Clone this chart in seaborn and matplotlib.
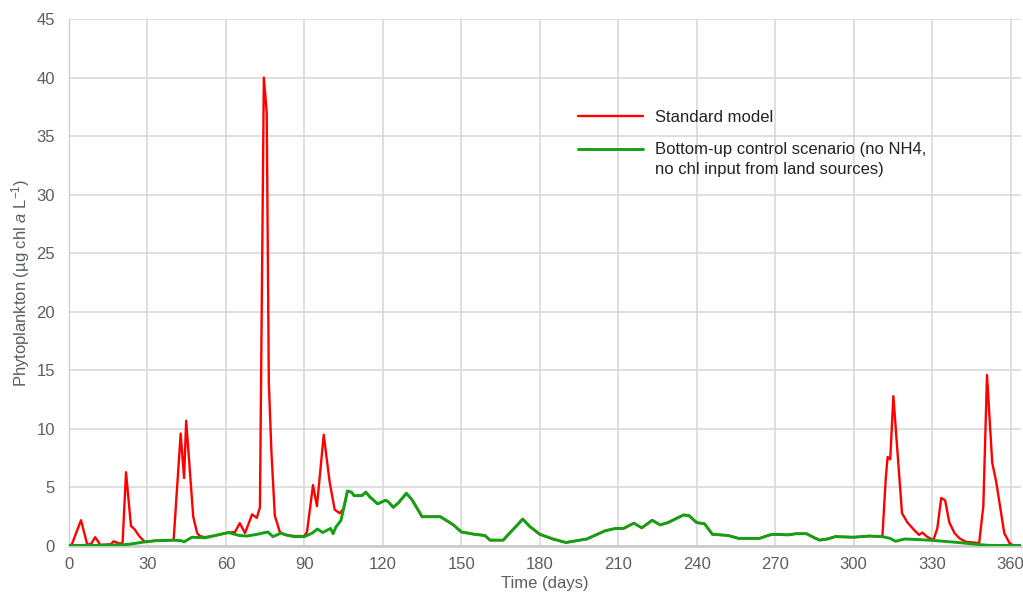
import matplotlib
matplotlib.use("Agg")
import matplotlib.pyplot as plt
import pandas as pd
import seaborn as sns
from matplotlib.lines import Line2D

# Bottom-up control scenario (no NH4, no chl input from land sources)
ctrl_days = [0, 1, 10, 20, 23, 26, 29, 33, 40, 43, 44, 47, 52, 56, 61, 65, 68, 72, 76, 78,
             81, 83, 86, 90, 93, 95, 97, 100, 101, 102, 104, 106.5, 108, 109, 112, 113.5,
             115, 118, 121, 122, 124, 126, 129, 131, 135, 137, 142, 147, 150, 155, 159,
             161, 166, 173.5, 176, 180, 185, 190, 198, 205, 209, 212, 216, 219, 223, 226,
             229, 235, 237, 240, 243, 246, 252, 256, 264, 268, 270, 275, 278, 282, 285,
             287, 290, 293, 300, 306, 311, 314, 316, 319.5, 329, 340, 349, 352, 364]
ctrl_vals = [0.05, 0.05, 0.05, 0.1, 0.15, 0.25, 0.35, 0.45, 0.5, 0.45, 0.35, 0.75, 0.7, 0.9,
             1.15, 0.9, 0.85, 1.0, 1.2, 0.8, 1.1, 0.95, 0.8, 0.8, 1.1, 1.45, 1.15, 1.5, 1.05,
             1.6, 2.2, 4.7, 4.6, 4.3, 4.3, 4.6, 4.2, 3.6, 3.9, 3.8, 3.3, 3.7, 4.5, 4.0, 2.5,
             2.5, 2.5, 1.8, 1.2, 1.0, 0.9, 0.5, 0.5, 2.3, 1.7, 1.0, 0.6, 0.3, 0.6, 1.3, 1.5,
             1.5, 1.95, 1.55, 2.2, 1.8, 2.0, 2.65, 2.6, 2.0, 1.9, 1.0, 0.9, 0.65, 0.65, 0.95,
             1.0, 0.95, 1.05, 1.05, 0.7, 0.5, 0.6, 0.8, 0.75, 0.85, 0.8, 0.65, 0.4, 0.6, 0.5,
             0.3, 0.1, 0.05, 0.05]

# Standard model: winter/spring blooms
std_early_days = [0, 1, 4.6, 7, 8.5, 10, 12, 16, 17, 19.5, 20.5, 21.8, 23.7, 25, 27, 29, 31,
                  33, 40, 42.7, 44, 44.8, 47.5, 49, 50, 52, 56, 61, 63.5, 65.3, 67.3, 70,
                  71.8, 73, 74.5, 75.6, 76.4, 77.4, 78.7, 80.6, 82.5, 86, 90, 91, 93.3, 94.8,
                  97.4, 99.7, 101.6, 103.5, 105]
std_early_vals = [0.05, 0.1, 2.2, 0.1, 0.2, 0.75, 0.1, 0.15, 0.4, 0.2, 0.3, 6.3, 1.7, 1.45,
                  0.8, 0.35, 0.4, 0.45, 0.5, 9.6, 5.8, 10.7, 2.5, 1.1, 0.85, 0.75, 0.9, 1.15,
                  1.2, 1.95, 1.1, 2.7, 2.4, 3.3, 40.0, 37.0, 14.0, 8.0, 2.6, 1.2, 0.95, 0.85,
                  0.85, 1.2, 5.2, 3.4, 9.5, 5.4, 3.1, 2.8, 3.2]

# Standard model: autumn/winter blooms
std_late_days = [312.3, 313, 314, 315.2, 316.8, 318.5, 320.6, 323, 325, 326.3, 328, 330.5,
                 332, 333.5, 335, 336.6, 338.6, 340.5, 343, 348, 349.6, 351, 353, 354.5,
                 356.4, 357.6, 359.6, 361, 364]
std_late_vals = [5.8, 7.6, 7.4, 12.8, 7.9, 2.8, 2.0, 1.4, 0.95, 1.15, 0.8, 0.5, 1.5, 4.1,
                 3.9, 2.0, 1.1, 0.65, 0.35, 0.25, 3.4, 14.6, 7.1, 5.5, 2.8, 1.1, 0.25, 0.05,
                 0.05]

# Between the blooms both runs share the same trajectory
mid = [(d, v) for d, v in zip(ctrl_days, ctrl_vals) if 106 <= d <= 311]
std_days = std_early_days + [d for d, _ in mid] + std_late_days
std_vals = std_early_vals + [v for _, v in mid] + std_late_vals

x_ticks = list(range(0, 361, 30))
y_ticks = list(range(0, 46, 5))

std_df = pd.DataFrame({"day": std_days, "chl": std_vals})
ctrl_df = pd.DataFrame({"day": ctrl_days, "chl": ctrl_vals})

sns.set_theme(style="white")
plt.rcParams["font.family"] = ["Liberation Sans", "DejaVu Sans"]
plt.rcParams["mathtext.fontset"] = "custom"
plt.rcParams["mathtext.rm"] = "Liberation Sans"
plt.rcParams["mathtext.it"] = "Liberation Sans:italic"

RED = "#ff0000"
GREEN = "#14a014"
TICK_COLOR = "#5a5e64"

fig = plt.figure(figsize=(10.23, 6.02), dpi=100)
ax = fig.add_axes([69 / 1023, 56 / 602, (1021 - 69) / 1023, (546 - 19) / 602])

sns.lineplot(data=std_df, x="day", y="chl", ax=ax, color=RED, linewidth=1.7,
             sort=False, estimator=None, zorder=3)
sns.lineplot(data=ctrl_df, x="day", y="chl", ax=ax, color=GREEN, linewidth=2.1,
             sort=False, estimator=None, zorder=4)

ax.set_xlim(0, 364)
ax.set_ylim(0, 45)
ax.set_xticks(x_ticks)
ax.set_yticks(y_ticks)
ax.grid(True, color="#d9d9d9", linewidth=1.2, zorder=0)
ax.set_axisbelow(True)
for side in ("top", "right"):
    ax.spines[side].set_visible(False)
ax.spines["left"].set_color("#cfcfcf")
ax.spines["left"].set_linewidth(1.0)
ax.spines["bottom"].set_color("#c8c8c8")
ax.spines["bottom"].set_linewidth(1.8)
ax.tick_params(axis="both", length=0, labelsize=12, labelcolor=TICK_COLOR)
ax.tick_params(axis="y", pad=10)
ax.tick_params(axis="x", pad=8)

ax.set_xlabel("Time (days)", fontsize=12, color=TICK_COLOR, labelpad=3)
ax.set_ylabel(r"Phytoplankton (µg chl $\mathit{a}$ L$^{-1}$)", fontsize=12,
              color=TICK_COLOR, labelpad=3)

# Legend: one block per scenario so the green key sits on the first text line
leg_kw = dict(frameon=False, fontsize=12, handlelength=3.9, handletextpad=0.7,
              borderpad=0, borderaxespad=0, labelcolor="#222222",
              bbox_transform=fig.transFigure, loc="center left")
leg1 = ax.legend([Line2D([], [], color=RED, linewidth=1.7)], ["Standard model"],
                 bbox_to_anchor=(578 / 1023, 1 - 117 / 602), **leg_kw)
ax.add_artist(leg1)
ax.legend([Line2D([], [], color=GREEN, linewidth=2.1), Line2D([], [], color="none")],
          ["Bottom-up control scenario (no NH4,", "no chl input from land sources)"],
          bbox_to_anchor=(578 / 1023, 1 - 159.5 / 602), labelspacing=0.25, **leg_kw)

fig.savefig("out.png", dpi=100)
